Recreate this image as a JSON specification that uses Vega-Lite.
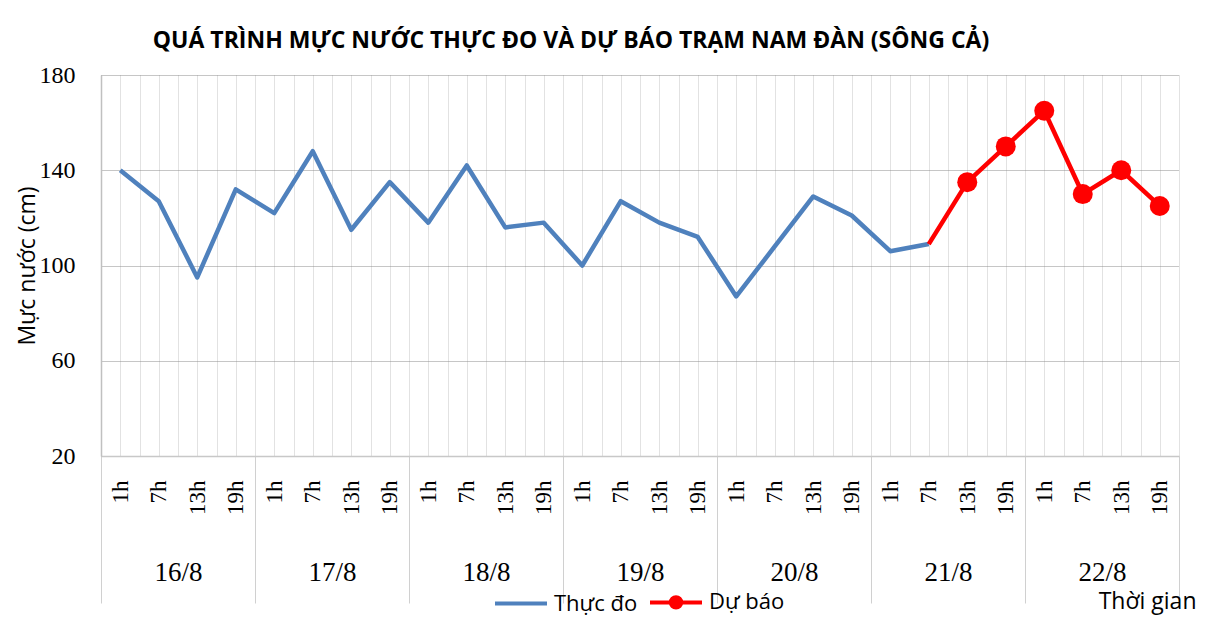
{
  "$schema": "https://vega.github.io/schema/vega-lite/v6.json",
  "width": 1078,
  "height": 381,
  "autosize": {"type": "none"},
  "padding": {"left": 101, "top": 75, "right": 43, "bottom": 165},
  "background": "white",
  "config": {"view": {"stroke": null}},
  "title": {
    "text": "QUÁ TRÌNH MỰC NƯỚC THỰC ĐO VÀ DỰ BÁO TRẠM  NAM ĐÀN (SÔNG CẢ)",
    "font": "Open Sans",
    "fontSize": 23,
    "fontWeight": "bold",
    "color": "#000000",
    "anchor": "middle",
    "frame": "group",
    "dx": -69,
    "baseline": "alphabetic",
    "offset": -8
  },
  "datasets": {
    "levels": [
      {"t": "16/8 1h", "day": "16/8", "series": "Thực đo", "value": 140},
      {"t": "16/8 7h", "day": "16/8", "series": "Thực đo", "value": 127},
      {"t": "16/8 13h", "day": "16/8", "series": "Thực đo", "value": 95},
      {"t": "16/8 19h", "day": "16/8", "series": "Thực đo", "value": 132},
      {"t": "17/8 1h", "day": "17/8", "series": "Thực đo", "value": 122},
      {"t": "17/8 7h", "day": "17/8", "series": "Thực đo", "value": 148},
      {"t": "17/8 13h", "day": "17/8", "series": "Thực đo", "value": 115},
      {"t": "17/8 19h", "day": "17/8", "series": "Thực đo", "value": 135},
      {"t": "18/8 1h", "day": "18/8", "series": "Thực đo", "value": 118},
      {"t": "18/8 7h", "day": "18/8", "series": "Thực đo", "value": 142},
      {"t": "18/8 13h", "day": "18/8", "series": "Thực đo", "value": 116},
      {"t": "18/8 19h", "day": "18/8", "series": "Thực đo", "value": 118},
      {"t": "19/8 1h", "day": "19/8", "series": "Thực đo", "value": 100},
      {"t": "19/8 7h", "day": "19/8", "series": "Thực đo", "value": 127},
      {"t": "19/8 13h", "day": "19/8", "series": "Thực đo", "value": 118},
      {"t": "19/8 19h", "day": "19/8", "series": "Thực đo", "value": 112},
      {"t": "20/8 1h", "day": "20/8", "series": "Thực đo", "value": 87},
      {"t": "20/8 7h", "day": "20/8", "series": "Thực đo", "value": 108},
      {"t": "20/8 13h", "day": "20/8", "series": "Thực đo", "value": 129},
      {"t": "20/8 19h", "day": "20/8", "series": "Thực đo", "value": 121},
      {"t": "21/8 1h", "day": "21/8", "series": "Thực đo", "value": 106},
      {"t": "21/8 7h", "day": "21/8", "series": "Thực đo", "value": 109},
      {"t": "21/8 7h", "day": "21/8", "series": "Dự báo", "value": 109},
      {"t": "21/8 13h", "day": "21/8", "series": "Dự báo", "value": 135},
      {"t": "21/8 19h", "day": "21/8", "series": "Dự báo", "value": 150},
      {"t": "22/8 1h", "day": "22/8", "series": "Dự báo", "value": 165},
      {"t": "22/8 7h", "day": "22/8", "series": "Dự báo", "value": 130},
      {"t": "22/8 13h", "day": "22/8", "series": "Dự báo", "value": 140},
      {"t": "22/8 19h", "day": "22/8", "series": "Dự báo", "value": 125}
    ]
  },
  "data": {"name": "levels"},
  "resolve": {"scale": {"x": "independent"}, "axis": {"x": "independent"}},
  "layer": [
    {
      "mark": {"type": "point", "opacity": 0},
      "encoding": {
        "x": {
          "field": "t", "type": "ordinal",
          "scale": {"type": "band", "paddingInner": 0, "paddingOuter": 0,
            "domain": ["16/8 1h","16/8 7h","16/8 13h","16/8 19h","17/8 1h","17/8 7h","17/8 13h","17/8 19h","18/8 1h","18/8 7h","18/8 13h","18/8 19h","19/8 1h","19/8 7h","19/8 13h","19/8 19h","20/8 1h","20/8 7h","20/8 13h","20/8 19h","21/8 1h","21/8 7h","21/8 13h","21/8 19h","22/8 1h","22/8 7h","22/8 13h","22/8 19h"]},
          "axis": {"orient": "bottom", "grid": true, "gridColor": "#C4C4C4", "gridDash": [1, 1], "gridWidth": 1, "tickBand": "extent", "labels": false, "ticks": false, "domain": false, "title": null}
        },
        "y": {
          "field": "value", "type": "quantitative",
          "scale": {"domain": [20, 180], "nice": false, "zero": false},
          "axis": {"values": [20, 60, 100, 140, 180],
            "grid": true, "gridColor": "#8C8C8C", "gridDash": [1, 1], "gridWidth": 1,
            "domain": true, "domainColor": "#C0C0C0", "domainWidth": 1.5, "ticks": false,
            "labelPadding": 26, "labelFont": "Liberation Serif", "labelFontSize": 24, "labelColor": "#000000",
            "title": "Mực nước (cm)", "titleFont": "Open Sans", "titleFontSize": 23, "titleFontWeight": "normal", "titleColor": "#000000", "titlePadding": 0}
        }
      }
    },
    {
      "mark": {"type": "point", "opacity": 0},
      "encoding": {
        "x": {
          "field": "day", "type": "ordinal",
          "scale": {"type": "band", "paddingInner": 0, "paddingOuter": 0, "domain": ["16/8","17/8","18/8","19/8","20/8","21/8","22/8"]},
          "axis": {"orient": "bottom", "grid": false, "domain": false, "ticks": true, "tickBand": "extent", "tickSize": 147, "tickColor": "#D0D0D0", "tickWidth": 1,
            "labelAngle": 0, "labelPadding": -23, "labelBaseline": "alphabetic", "labelAlign": "center", "labelFont": "Liberation Serif", "labelFontSize": 27, "labelColor": "#000000",
            "title": "Thời gian", "titleFont": "Open Sans", "titleFontSize": 23, "titleFontWeight": "normal", "titleColor": "#000000",
            "titleX": 1095, "titleY": 152, "titleAlign": "right", "titleBaseline": "alphabetic", "titleAnchor": "end"}
        },
        "y": {"field": "value", "type": "quantitative"}
      }
    },
    {
      "transform": [{"filter": "datum.series === 'Thực đo'"}],
      "mark": {"type": "line", "color": "#4F81BD", "strokeWidth": 4.5, "strokeJoin": "round"},
      "encoding": {
        "x": {
          "field": "t", "type": "ordinal",
          "scale": {"type": "point", "padding": 0.5,
            "domain": ["16/8 1h","16/8 7h","16/8 13h","16/8 19h","17/8 1h","17/8 7h","17/8 13h","17/8 19h","18/8 1h","18/8 7h","18/8 13h","18/8 19h","19/8 1h","19/8 7h","19/8 13h","19/8 19h","20/8 1h","20/8 7h","20/8 13h","20/8 19h","21/8 1h","21/8 7h","21/8 13h","21/8 19h","22/8 1h","22/8 7h","22/8 13h","22/8 19h"]},
          "axis": {"orient": "bottom", "grid": true, "gridColor": "#C4C4C4", "gridDash": [1, 1], "gridWidth": 1, "domain": true, "domainColor": "#C8C8C8", "domainWidth": 1.5, "ticks": false,
            "labelExpr": "split(datum.value, ' ')[1]", "labelAngle": -90, "labelAlign": "right", "labelBaseline": "middle", "labelPadding": 24,
            "labelFont": "Liberation Serif", "labelFontSize": 23, "labelColor": "#000000", "title": null}
        },
        "y": {"field": "value", "type": "quantitative"}
      }
    },
    {
      "transform": [{"filter": "datum.series === 'Dự báo'"}],
      "mark": {"type": "line", "color": "#FF0000", "strokeWidth": 4.5, "strokeJoin": "round"},
      "encoding": {
        "x": {
          "field": "t", "type": "ordinal",
          "scale": {"type": "point", "padding": 0.5,
            "domain": ["16/8 1h","16/8 7h","16/8 13h","16/8 19h","17/8 1h","17/8 7h","17/8 13h","17/8 19h","18/8 1h","18/8 7h","18/8 13h","18/8 19h","19/8 1h","19/8 7h","19/8 13h","19/8 19h","20/8 1h","20/8 7h","20/8 13h","20/8 19h","21/8 1h","21/8 7h","21/8 13h","21/8 19h","22/8 1h","22/8 7h","22/8 13h","22/8 19h"]},
          "axis": null
        },
        "y": {"field": "value", "type": "quantitative"}
      }
    },
    {
      "transform": [{"filter": "datum.series === 'Dự báo' && datum.t !== '21/8 7h'"}],
      "mark": {"type": "circle", "color": "#FF0000", "size": 400, "opacity": 1},
      "encoding": {
        "x": {
          "field": "t", "type": "ordinal",
          "scale": {"type": "point", "padding": 0.5,
            "domain": ["16/8 1h","16/8 7h","16/8 13h","16/8 19h","17/8 1h","17/8 7h","17/8 13h","17/8 19h","18/8 1h","18/8 7h","18/8 13h","18/8 19h","19/8 1h","19/8 7h","19/8 13h","19/8 19h","20/8 1h","20/8 7h","20/8 13h","20/8 19h","21/8 1h","21/8 7h","21/8 13h","21/8 19h","22/8 1h","22/8 7h","22/8 13h","22/8 19h"]},
          "axis": null
        },
        "y": {"field": "value", "type": "quantitative"}
      }
    },
    {
      "transform": [{"filter": "false"}],
      "mark": {"type": "point", "filled": false, "opacity": 1, "strokeWidth": 4, "size": 2704},
      "encoding": {
        "x": {"field": "t", "type": "ordinal", "axis": null},
        "y": {"field": "value", "type": "quantitative"},
        "color": {
          "field": "series", "type": "nominal",
          "scale": {"domain": ["Thực đo", "Dự báo"], "range": ["#4F81BD", "#FF0000"]},
          "legend": {"orient": "none", "legendX": 392, "legendY": 499, "direction": "horizontal", "title": null,
            "symbolSize": 2704, "symbolStrokeWidth": 4, "labelOffset": 5, "columnPadding": 4,
            "labelFont": "Open Sans", "labelFontSize": 22, "labelColor": "#000000"}
        },
        "shape": {
          "field": "series", "type": "nominal",
          "scale": {"domain": ["Thực đo", "Dự báo"], "range": ["M-1,0L1,0", "M-1,0L1,0M-0.2,0A0.2,0.2,0,1,1,0.2,0A0.2,0.2,0,1,1,-0.2,0M-0.1,0A0.1,0.1,0,1,1,0.1,0A0.1,0.1,0,1,1,-0.1,0"]},
          "legend": {"orient": "none", "legendX": 392, "legendY": 499, "direction": "horizontal", "title": null,
            "symbolSize": 2704, "symbolStrokeWidth": 4, "labelOffset": 5, "columnPadding": 4,
            "labelFont": "Open Sans", "labelFontSize": 22, "labelColor": "#000000"}
        }
      }
    }
  ]
}
